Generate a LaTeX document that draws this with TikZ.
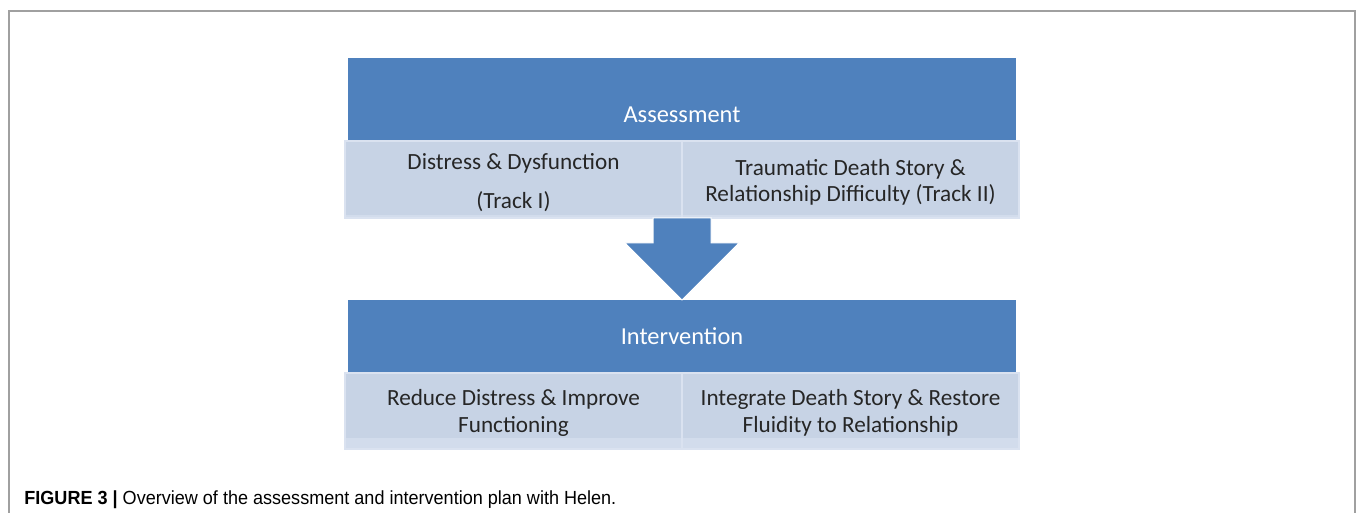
\documentclass[tikz,border=0pt]{standalone}
\usepackage{fontspec}
\setmainfont{Carlito}
\newfontfamily\capfont[FakeStretch=0.95]{Liberation Sans}
\usetikzlibrary{calc,positioning}

\definecolor{hdrblue}{RGB}{79,129,189}
\definecolor{cellblue}{RGB}{199,211,229}
\definecolor{stripblue}{RGB}{210,220,236}
\definecolor{cellline}{RGB}{218,226,240}
\definecolor{framegray}{RGB}{160,160,160}
\definecolor{textgray}{RGB}{38,38,38}

\begin{document}
\begin{tikzpicture}[x=1pt, y=-1pt,
  hdr/.style={fill=hdrblue, minimum width=334pt, inner sep=0pt, outer sep=0pt},
  hdrtext/.style={text=white, font=\fontsize{12.2}{14}\selectfont, inner sep=0pt},
  cell/.style={fill=cellblue, draw=cellline, line width=0.8pt, minimum width=168.5pt,
    minimum height=38.5pt, inner sep=0pt, outer sep=0pt},
  celltext/.style={align=center, inner sep=0pt, text=textgray,
    font=\fontsize{11.6}{13.3}\selectfont},
  strip/.style={path picture={\fill[stripblue] (path picture bounding box.south west)
    rectangle ([yshift=#1]path picture bounding box.south east);}}]

  \useasboundingbox (0,0) rectangle (678.5,256.5);

  % Outer frame, open at the bottom
  \draw[framegray, line width=0.75pt] (4.5,256.5) -- (4.5,5.5) -- (677.5,5.5) -- (677.5,256.5);

  % Assessment block
  \node[hdr, minimum height=41.5pt] (assess) at (341,49.75) {};
  \node[hdrtext] (assesstxt) at ([yshift=-7.75pt]assess.center) {Assessment};
  \node[cell, strip=1.5pt, anchor=north east] (assessL) at (assess.south) {};
  \node[cell, strip=1.5pt, anchor=north west] (assessR) at (assess.south) {};
  \node[celltext] (assessLtxt) at ([yshift=-1.5pt]assessL.center)
    {Distress \& Dysfunction\\[6pt](Track I)};
  \node[celltext] (assessRtxt) at ([yshift=-1.5pt]assessR.center)
    {Traumatic Death Story \&\\Relationship Difficulty (Track II)};

  % Intervention block
  \node[hdr, minimum height=36.5pt] (interv) at (341,168.25) {};
  \node[hdrtext] (intervtxt) at (interv.center) {Intervention};
  \node[cell, strip=5.5pt, minimum height=38pt, anchor=north east] (interL) at (interv.south) {};
  \node[cell, strip=5.5pt, minimum height=38pt, anchor=north west] (interR) at (interv.south) {};
  \node[celltext] (interLtxt) at ([yshift=-1pt]interL.center)
    {Reduce Distress \& Improve\\Functioning};
  \node[celltext] (interRtxt) at ([yshift=-1pt]interR.center)
    {Integrate Death Story \& Restore\\Fluidity to Relationship};

  % Block arrow from assessment down to intervention
  \filldraw[fill=hdrblue, draw=white, line width=0.5pt]
    ($(assessL.south east)+(-14.5,0)$) -- ++(29,0) -- ++(0,12.5) -- ++(14,0)
    -- (interv.north) -- ++(-28.5,-28.5) -- ++(14,0) -- cycle;

  % Caption
  \node[anchor=base west, inner sep=0pt, font=\capfont\fontsize{9.5}{11}\selectfont]
    (caption) at (12,252.5)
    {\textbf{FIGURE 3 |} Overview of the assessment and intervention plan with Helen.};

\end{tikzpicture}
\end{document}
